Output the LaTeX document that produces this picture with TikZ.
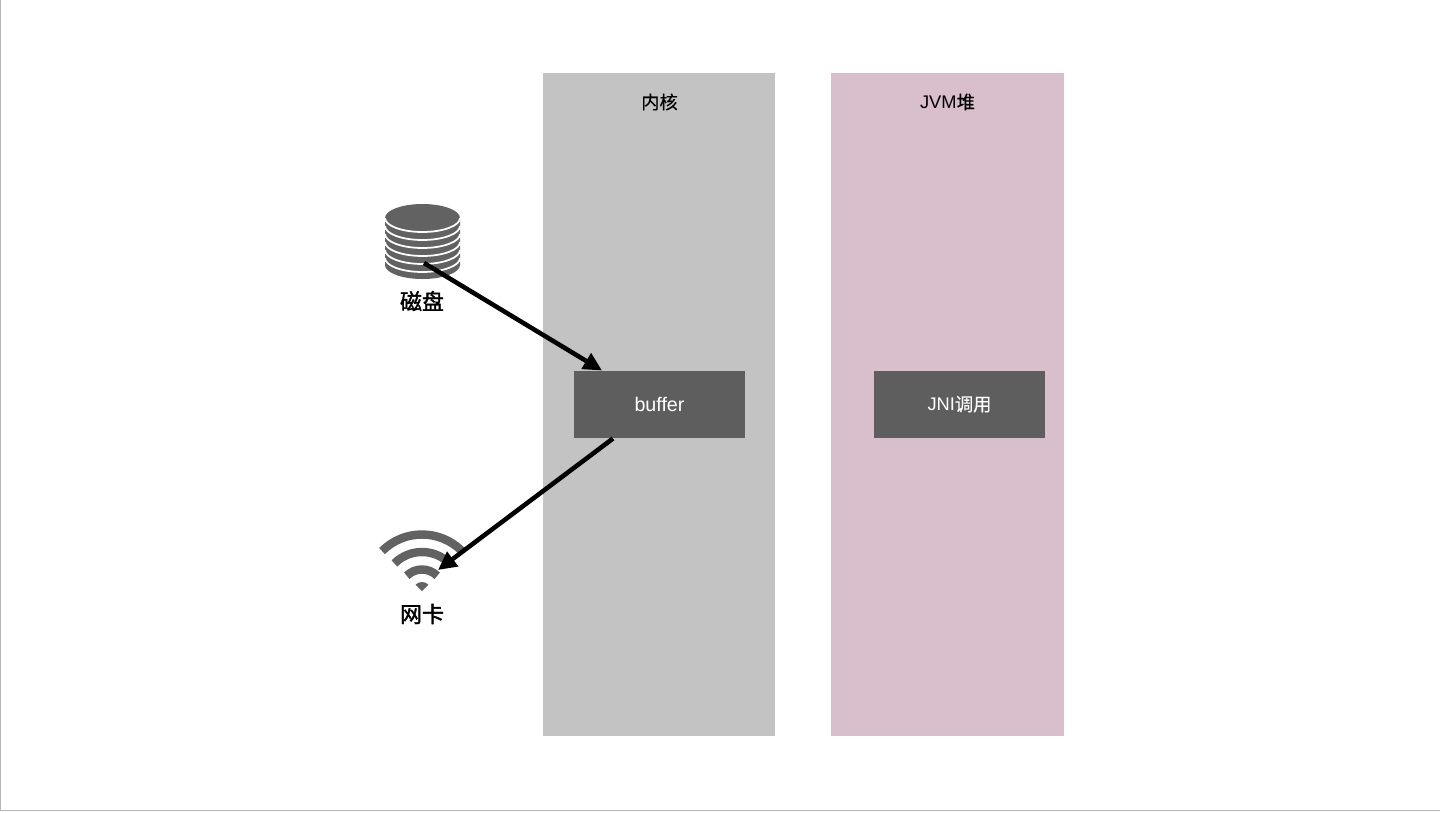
\documentclass[tikz,border=0pt]{standalone}
\usepackage{xcolor}
\usepackage{fontspec}
\setmainfont{Liberation Sans}
\newfontfamily\cjk[FakeBold=0.25]{Noto Sans CJK SC}
\newfontfamily\cjkheavy[FakeBold=1.6]{Noto Sans CJK SC}
\usetikzlibrary{positioning,arrows.meta}
\definecolor{kernelgray}{HTML}{C3C3C3}
\definecolor{jvmpink}{HTML}{D9BFCC}
\definecolor{boxgray}{HTML}{5E5E5E}
\definecolor{icongray}{HTML}{626262}
\definecolor{edgegray}{HTML}{B4B6BA}
\tikzset{
  zone/.style={fill=#1,draw=none,minimum width=4.65cm,minimum height=13.26cm,inner sep=0pt},
  membox/.style={fill=boxgray,draw=none,text=white,minimum width=3.41cm,minimum height=1.35cm,inner sep=0pt,font=\fontsize{11.2}{12}\selectfont},
  zonelabel/.style={inner sep=0pt,font=\fontsize{10.4}{12}\selectfont},
  iconlabel/.style={inner sep=0pt,font=\fontsize{12.5}{14}\selectfont\cjkheavy},
  flow/.style={line width=2.6pt,-{Triangle[length=10.5pt,width=10pt]}}
}
\begin{document}
\begin{tikzpicture}[x=0.02cm,y=0.02cm]
\useasboundingbox (0,0) rectangle (1440,-812);
\fill [white] (0,0) rectangle (1440,-812);
\draw [edgegray,line width=0.8pt] (0.5,0) -- (0.5,-810.5) -- (1440,-810.5);
% zones
\node (kernel) [zone=kernelgray] at (659,-404.5) {};
\node (jvm) [zone=jvmpink] at (947.5,-404.5) {};
\node (kernellabel) [zonelabel] at (659.5,-102) {\cjk 内核};
\node (jvmlabel) [zonelabel] at (947.5,-102) {JVM{\cjk 堆}};
\node (buffer) [membox] at (659.5,-404.25) {\raisebox{-1.2pt}{buffer}};
\node (jni) [membox,font=\fontsize{10.4}{12}\selectfont] at (959.5,-404.25) {\raisebox{-0.6pt}{JNI{\cjk 调用}}};
% disk
\fill [icongray] (385,-218) -- (385,-265) arc (180:360:37.5 and 14) -- (460,-218) arc (0:180:37.5 and 14);
\foreach \y in {218,226,234,242,250,258} {
  \draw [white,line width=1pt] (385,-\y) arc (180:360:37.5 and 14);
}
\node (disklabel) [iconlabel] at (422,-301) {磁盘};
% wifi
\foreach \r in {56.5,39,21.5} {
  \draw [icongray,line width=4.8pt] (422,-591) ++(45:\r) arc (45:135:\r);
}
\fill [icongray] (422,-591) -- ++(45:9) arc (45:135:9) -- cycle;
\node (niclabel) [iconlabel] at (422,-614) {网卡};
% copies
\coordinate (diskout) at (424,-263);
\coordinate (bufferin) at (602,-370.5);
\coordinate (bufferout) at (613,-438.5);
\coordinate (nicin) at (438,-570);
\draw [flow] (diskout) -- (bufferin);
\draw [flow] (bufferout) -- (nicin);
\end{tikzpicture}
\end{document}
